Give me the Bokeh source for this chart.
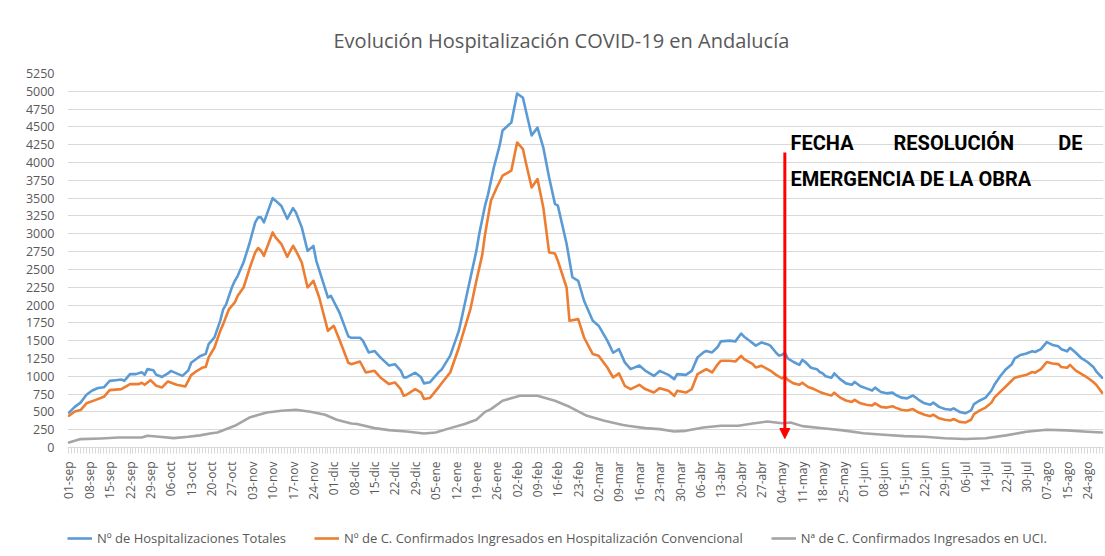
import math
from bokeh.plotting import figure
from bokeh.layouts import column
from bokeh.models import (FixedTicker, Range1d, Legend, LegendItem, Arrow,
                          NormalHead, Label, ColumnDataSource)
from bokeh.embed import file_html
from bokeh.resources import INLINE

# ---------------- data ----------------
tick_labels = ["01-sep", "08-sep", "15-sep", "22-sep", "29-sep", "06-oct", "13-oct",
               "20-oct", "27-oct", "03-nov", "10-nov", "17-nov", "24-nov", "01-dic",
               "08-dic", "15-dic", "22-dic", "29-dic", "05-ene", "12-ene", "19-ene",
               "26-ene", "02-feb", "09-feb", "16-feb", "23-feb", "02-mar", "09-mar",
               "16-mar", "23-mar", "30-mar", "06-abr", "13-abr", "20-abr", "27-abr",
               "04-may", "11-may", "18-may", "25-may", "01-jun", "08-jun", "15-jun",
               "22-jun", "29-jun", "06-jul", "14-jul", "22-jul", "30-jul", "07-ago",
               "15-ago", "24-ago"]
n_days = 356

# Nº de Hospitalizaciones Totales (day index, value)
total_idx = [0, 2, 4, 6, 8, 10, 12, 14, 16, 18, 19, 21, 23, 25, 26, 27, 29, 30, 32, 34,
             35, 37, 39, 41, 42, 45, 47, 48, 50, 52, 53, 54, 56, 57, 58, 60, 62, 64, 65,
             66, 67, 70, 71, 73, 75, 77, 78, 80, 82, 84, 85, 89, 90, 93, 96, 97, 100,
             101, 103, 105, 107, 110, 112, 114, 115, 116, 119, 121, 122, 124, 127, 128,
             131, 134, 137, 140, 141, 143, 144, 146, 148, 149, 152, 154, 156, 157, 159,
             161, 163, 165, 167, 168, 171, 173, 175, 177, 180, 182, 185, 187, 189, 191,
             193, 196, 198, 201, 203, 206, 208, 209, 212, 214, 216, 218, 219, 221, 223,
             224, 227, 229, 231, 232, 234, 236, 238, 240, 241, 243, 244, 245, 246, 247,
             249, 251, 252, 253, 255, 257, 258, 259, 260, 262, 263, 265, 267, 269, 270,
             272, 274, 276, 277, 279, 281, 283, 284, 286, 288, 290, 292, 294, 296, 297,
             299, 301, 303, 304, 306, 308, 310, 311, 313, 315, 317, 318, 320, 322, 324,
             325, 327, 329, 331, 332, 334, 336, 338, 340, 341, 343, 344, 346, 348, 350,
             352, 353, 355]
total_val = [490, 570, 630, 740, 800, 835, 845, 935, 945, 955, 935, 1030, 1030, 1055, 1020,
             1100, 1085, 1020, 990, 1040, 1075, 1040, 1005, 1080, 1190, 1280, 1315, 1450,
             1545, 1780, 1940, 2010, 2250, 2340, 2410, 2600, 2860, 3160, 3230, 3230, 3160,
             3500, 3465, 3390, 3210, 3360, 3300, 3090, 2760, 2830, 2620, 2105, 2130, 1890,
             1560, 1540, 1540, 1500, 1335, 1355, 1265, 1150, 1170, 1080, 985, 985, 1050,
             985, 900, 915, 1055, 1090, 1290, 1640, 2200, 2760, 3000, 3400, 3550, 3930,
             4240, 4450, 4560, 4970, 4910, 4730, 4380, 4490, 4210, 3790, 3420, 3395, 2860,
             2390, 2340, 2060, 1780, 1710, 1500, 1330, 1380, 1195, 1100, 1150, 1080, 1005,
             1075, 1020, 960, 1030, 1020, 1075, 1265, 1335, 1355, 1335, 1415, 1490, 1500,
             1490, 1600, 1555, 1495, 1430, 1475, 1450, 1430, 1330, 1290, 1300, 1330, 1250,
             1200, 1160, 1230, 1200, 1120, 1100, 1060, 1040, 1000, 980, 1040, 960, 900,
             880, 920, 860, 830, 800, 840, 780, 760, 770, 740, 700, 690, 730, 670, 620,
             600, 630, 570, 540, 530, 550, 500, 480, 520, 610, 660, 700, 800, 880, 1000,
             1100, 1170, 1250, 1300, 1320, 1350, 1340, 1380, 1480, 1440, 1420, 1380, 1350,
             1400, 1330, 1250, 1200, 1130, 1070, 980]

# Nº de C. Confirmados Ingresados en Hospitalización Convencional
conv_idx = [0, 2, 4, 6, 9, 12, 14, 18, 21, 24, 25, 26, 28, 30, 32, 34, 37, 40, 42, 44, 46,
            47, 48, 50, 52, 53, 55, 57, 58, 60, 62, 64, 65, 66, 67, 70, 71, 73, 75, 77, 78,
            80, 82, 84, 86, 89, 91, 93, 96, 97, 100, 102, 105, 107, 110, 112, 114, 115,
            116, 119, 121, 122, 124, 127, 128, 131, 134, 138, 140, 142, 143, 145, 147,
            149, 152, 154, 156, 157, 159, 161, 163, 165, 167, 168, 171, 172, 175, 177,
            180, 182, 185, 187, 189, 191, 193, 196, 198, 201, 203, 206, 208, 209, 212,
            214, 216, 219, 221, 223, 224, 227, 229, 231, 232, 235, 236, 238, 241, 243,
            245, 246, 247, 249, 251, 252, 254, 256, 258, 260, 262, 263, 265, 267, 269,
            270, 272, 274, 276, 277, 279, 281, 283, 284, 286, 288, 290, 292, 294, 296,
            297, 299, 301, 303, 304, 306, 308, 310, 311, 313, 315, 317, 318, 320, 322,
            324, 325, 327, 329, 331, 332, 334, 336, 338, 340, 341, 343, 344, 346, 348,
            350, 352, 353, 355]
conv_val = [445, 505, 525, 620, 665, 712, 806, 820, 890, 890, 909, 880, 945, 867, 843, 927,
            880, 857, 1016, 1077, 1124, 1130, 1264, 1404, 1638, 1732, 1943, 2036, 2130,
            2246, 2505, 2738, 2800, 2762, 2691, 3019, 2949, 2856, 2677, 2832, 2762, 2597,
            2246, 2340, 2106, 1638, 1709, 1510, 1190, 1170, 1207, 1053, 1077, 983, 890,
            913, 820, 726, 740, 820, 772, 680, 694, 843, 899, 1053, 1404, 1950, 2340, 2700,
            2996, 3464, 3650, 3815, 3885, 4282, 4189, 4001, 3650, 3768, 3370, 2738, 2724,
            2621, 2246, 1779, 1802, 1544, 1311, 1287, 1123, 983, 1040, 866, 820, 880, 820,
            772, 833, 796, 726, 796, 772, 820, 1031, 1101, 1054, 1171, 1217, 1217, 1208,
            1287, 1240, 1171, 1123, 1147, 1080, 1020, 970, 1000, 950, 900, 880, 910, 850,
            820, 780, 750, 730, 770, 700, 660, 640, 670, 620, 600, 590, 620, 570, 560, 580,
            560, 530, 520, 540, 490, 460, 440, 460, 410, 390, 380, 400, 360, 350, 390, 470,
            520, 560, 630, 700, 780, 860, 940, 980, 1000, 1020, 1060, 1050, 1100, 1200,
            1180, 1170, 1130, 1120, 1160, 1080, 1030, 980, 920, 880, 770]

# Nº de C. Confirmados Ingresados en UCI
uci_idx = [0, 4, 11, 17, 25, 27, 31, 36, 41, 45, 49, 51, 57, 62, 68, 73, 78, 83, 88, 92,
           97, 99, 105, 110, 116, 122, 126, 131, 136, 140, 143, 145, 149, 155, 161, 167,
           172, 178, 184, 190, 192, 198, 203, 208, 212, 218, 224, 230, 235, 240, 245, 248,
           252, 259, 266, 273, 280, 287, 294, 301, 308, 315, 322, 329, 336, 343, 350, 355]
uci_val = [70, 118, 127, 140, 140, 164, 150, 131, 150, 170, 200, 211, 305, 421, 491, 515,
           529, 501, 459, 390, 337, 329, 272, 244, 225, 197, 211, 272, 329, 390, 500, 539,
           656, 726, 726, 656, 571, 445, 375, 320, 305, 272, 258, 225, 234, 281, 305, 305,
           337, 365, 340, 350, 300, 270, 240, 200, 180, 160, 150, 130, 120, 130, 170, 220,
           250, 240, 220, 210]

series_names = ["Nº de Hospitalizaciones Totales",
                "Nº de C. Confirmados Ingresados en Hospitalización Convencional",
                "Nª de C. Confirmados Ingresados en UCI."]
series_colors = ["#5B9BD5", "#ED7D31", "#A5A5A5"]

title_text = "Evolución Hospitalización COVID-19 en Andalucía"
note_line1 = ["FECHA", "RESOLUCIÓN", "DE"]
note_line2 = "EMERGENCIA DE LA OBRA"
resolution_day = 246  # 04-may

# ---------------- main figure ----------------
GREY_TXT = "#595959"
GRID = "#d9d9d9"
LINE_W = 2.6

p = figure(width=1105, height=515, output_backend="svg", toolbar_location=None,
           x_range=Range1d(-0.5, n_days - 0.5), y_range=Range1d(0, 5250),
           min_border_left=67, min_border_right=2, min_border_top=73,
           min_border_bottom=68)
p.outline_line_color = None
p.background_fill_color = "white"
p.border_fill_color = "white"

p.title.text = title_text
p.title.text_font = "Open Sans"
p.title.text_font_size = "20px"
p.title.text_font_style = "normal"
p.title.text_color = GREY_TXT
p.title.align = "left"
p.title.offset = 266
p.title.standoff = 39

p.xgrid.grid_line_color = None
p.ygrid.grid_line_color = GRID
p.ygrid.grid_line_width = 1

p.yaxis.ticker = FixedTicker(ticks=list(range(0, 5251, 250)))
p.yaxis.axis_line_color = None
p.yaxis.major_tick_line_color = None
p.yaxis.minor_tick_line_color = None
p.yaxis.major_label_standoff = 7
p.yaxis.major_label_text_font = "Open Sans"
p.yaxis.major_label_text_font_size = "12.5px"
p.yaxis.major_label_text_color = GREY_TXT

tick_idx = [7 * k for k in range(len(tick_labels))]
p.xaxis.ticker = FixedTicker(ticks=tick_idx, minor_ticks=list(range(n_days)))
p.xaxis.major_label_overrides = {i: lab for i, lab in zip(tick_idx, tick_labels)}
p.xaxis.major_label_orientation = math.pi / 2
p.xaxis.major_label_text_font = "Open Sans"
p.xaxis.major_label_text_font_size = "12px"
p.xaxis.major_label_text_color = GREY_TXT
p.xaxis.major_label_standoff = 8
p.xaxis.axis_line_color = GRID
p.xaxis.major_tick_line_color = GRID
p.xaxis.minor_tick_line_color = GRID
p.xaxis.major_tick_in = 0
p.xaxis.major_tick_out = 6
p.xaxis.minor_tick_in = 0
p.xaxis.minor_tick_out = 6

for idx, vals, col in [(total_idx, total_val, series_colors[0]),
                       (conv_idx, conv_val, series_colors[1]),
                       (uci_idx, uci_val, series_colors[2])]:
    src = ColumnDataSource(dict(x=idx, y=vals))
    p.line("x", "y", source=src, line_color=col, line_width=LINE_W,
           line_join="round", line_cap="round")

# annotation: red arrow and text
p.add_layout(Arrow(x_start=resolution_day, y_start=4141, x_end=resolution_day, y_end=126,
                   line_color="#FF0000", line_width=3,
                   end=NormalHead(size=10, fill_color="#FF0000", line_color="#FF0000")))

note_font = "Roboto"
for txt, xx, align in [(note_line1[0], 247.95, "left"), (note_line1[1], 283.35, "left"),
                       (note_line1[2], 348.3, "right")]:
    p.add_layout(Label(x=xx, y=4281, text=txt, text_font=note_font, text_font_size="20px",
                       text_font_style="bold", text_color="black", text_align=align,
                       text_baseline="middle"))
p.add_layout(Label(x=247.95, y=3776, text=note_line2, text_font=note_font,
                   text_font_size="20px", text_font_style="bold", text_color="black",
                   text_align="left", text_baseline="middle"))

# ---------------- legend strip ----------------
lg = figure(width=1105, height=41, output_backend="svg", toolbar_location=None,
            x_range=Range1d(0, 1), y_range=Range1d(0, 1),
            x_axis_type=None, y_axis_type=None,
            min_border_left=0, min_border_right=0, min_border_top=0,
            min_border_bottom=0)
lg.outline_line_color = None
lg.background_fill_color = "white"
lg.border_fill_color = "white"

# legend-only helper renderers, placed outside the visible range of the strip
swatches = [lg.line(x=[5, 6], y=[5, 5], line_color=c, line_width=LINE_W)
            for c in series_colors]
legend = Legend(items=[LegendItem(label=n, renderers=[r])
                       for n, r in zip(series_names, swatches)],
                orientation="horizontal", location=(0, 9),
                border_line_color=None, background_fill_alpha=0,
                label_text_font="Open Sans", label_text_font_size="13px",
                label_text_color=GREY_TXT, glyph_width=25, glyph_height=16,
                label_standoff=5, spacing=28, padding=3, margin=0)
lg.add_layout(legend)

layout = column(p, lg, spacing=0)
open("out.html", "w").write(file_html(layout, INLINE))
